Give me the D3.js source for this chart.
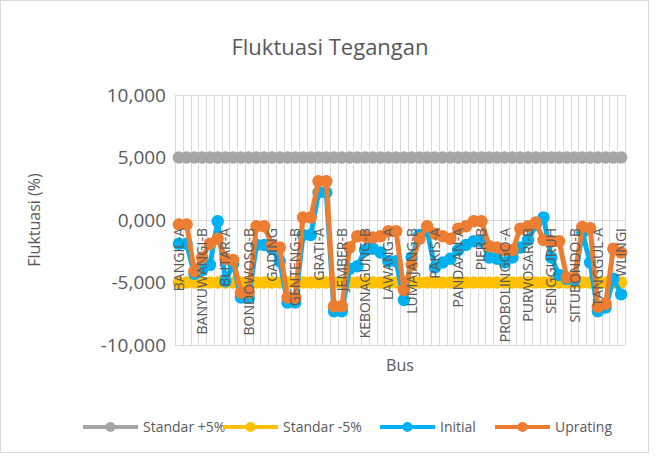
<!DOCTYPE html>
<html>
<head>
<meta charset="utf-8">
<script src="https://cdn.jsdelivr.net/npm/d3@7"></script>
<style>
  body { margin: 0; background: #fff; }
  svg { font-family: "Open Sans", sans-serif; }
</style>
</head>
<body>
<div id="chart"></div>
<script>
// Bus names (only every third one is shown on the axis)
const buses = [
  'BANGIL-A', 'BANGIL-B', 'BANYUWANGI-A', 'BANYUWANGI-B', 'BLIMBING-A', 'BLIMBING-B',
  'BLITAR-A', 'BLITAR-B', 'BONDOWOSO-A', 'BONDOWOSO-B', 'BULUKANDANG', 'DRIYOREJO',
  'GADING', 'GARUM', 'GENTENG-A', 'GENTENG-B', 'GLENMORE', 'GONDANGWETAN',
  'GRATI-A', 'GRATI-B', 'JEMBER-A', 'JEMBER-B', 'KARANGKATES', 'KEBONAGUNG-A',
  'KEBONAGUNG-B', 'KEPANJEN', 'KRAKSAAN', 'LAWANG-A', 'LAWANG-B', 'LUMAJANG-A',
  'LUMAJANG-B', 'MENDALAN', 'PAITON', 'PAKIS-A', 'PAKIS-B', 'PANARUKAN',
  'PANDAAN-A', 'PANDAAN-B', 'PIER-A', 'PIER-B', 'POLEHAN', 'PORONG',
  'PROBOLINGGO-A', 'PROBOLINGGO-B', 'PURWOSARI-A', 'PURWOSARI-B', 'SEKARPUTIH', 'SELOREJO',
  'SENGGURUH', 'SENGKALING', 'SITUBONDO-A', 'SITUBONDO-B', 'SUKOREJO', 'SUTAMI',
  'TANGGUL-A', 'TANGGUL-B', 'TULUNGAGUNG', 'WLINGI'
];

// Voltage fluctuation (%) per bus
const initial = [
  -1.90, -1.90, -4.30, -4.00, -3.60, -0.10, -4.90, -3.50, -6.20, -6.20,
  -2.00, -2.00, -2.30, -3.30, -6.60, -6.60, -1.20, -1.20, 2.20, 2.20,
  -7.30, -7.30, -3.90, -3.70, -2.40, -2.30, -2.60, -3.30, -3.30, -6.40,
  -3.00, -1.20, -0.90, -3.80, -3.40, -3.10, -2.40, -2.00, -1.70, -1.70,
  -3.00, -3.10, -3.40, -3.00, -2.20, -1.60, -0.40, 0.20, -3.00, -4.40,
  -4.70, -4.80, -1.00, -3.40, -7.30, -7.00, -4.70, -5.95
];
const uprating = [
  -0.35, -0.35, -4.10, -3.00, -1.90, -1.50, -3.10, -3.20, -5.80, -5.80,
  -0.50, -0.50, -2.00, -2.20, -6.20, -6.20, 0.20, 0.20, 3.10, 3.10,
  -6.90, -6.90, -2.20, -1.30, -1.30, -1.40, -1.30, -0.90, -0.90, -5.60,
  -3.60, -1.50, -0.50, -1.10, -1.30, -1.50, -0.70, -0.50, -0.10, -0.10,
  -2.10, -2.20, -2.40, -2.40, -0.70, -0.50, -0.20, -1.60, -1.70, -1.70,
  -4.60, -4.60, -0.55, -0.65, -6.95, -6.70, -2.30, -2.60
];
const standarPlus = buses.map(() => 5);
const standarMinus = buses.map(() => -5);

const yTicks = [10, 5, 0, -5, -10];

const series = [
  { name: 'Standar +5%', values: standarPlus, color: '#a5a5a5' },
  { name: 'Standar -5%', values: standarMinus, color: '#ffc000' },
  { name: 'Initial', values: initial, color: '#00b0f0' },
  { name: 'Uprating', values: uprating, color: '#ed7d31' }
];

const W = 657, H = 457;
const plot = { left: 175, right: 625, top: 95, bottom: 345 };

const svg = d3.select('#chart').append('svg')
  .attr('width', W)
  .attr('height', H);

svg.append('rect')
  .attr('x', 0.5).attr('y', 0.5)
  .attr('width', W - 9).attr('height', H - 5)
  .attr('fill', '#fff')
  .attr('stroke', '#d9d9d9');

const x = d3.scaleBand()
  .domain(buses)
  .range([plot.left, plot.right])
  .padding(0);

const y = d3.scaleLinear()
  .domain([-10, 10])
  .range([plot.bottom, plot.top]);

const idLocale = d3.formatLocale({ decimal: ',', thousands: '.', grouping: [3], currency: ['Rp', ''], minus: '-' });
const fmt = idLocale.format('.3f');

// horizontal gridlines
svg.append('g')
  .selectAll('line')
  .data(yTicks)
  .join('line')
  .attr('x1', plot.left).attr('x2', plot.right)
  .attr('y1', d => Math.round(y(d)) + 0.5)
  .attr('y2', d => Math.round(y(d)) + 0.5)
  .attr('stroke', '#d9d9d9');

// vertical gridlines at category edges
const edges = buses.map(b => x(b)).concat([plot.right]);
svg.append('g')
  .selectAll('line')
  .data(edges)
  .join('line')
  .attr('x1', d => Math.round(d) + 0.5).attr('x2', d => Math.round(d) + 0.5)
  .attr('y1', plot.top).attr('y2', plot.bottom)
  .attr('stroke', '#d9d9d9');

// y tick labels
svg.append('g')
  .selectAll('text')
  .data(yTicks)
  .join('text')
  .attr('x', 166)
  .attr('y', d => y(d))
  .attr('dy', '0.35em')
  .attr('text-anchor', 'end')
  .attr('fill', '#595959')
  .style('font-size', '19px')
  .text(d => fmt(d));

// series
const line = d3.line()
  .x((d, i) => x(buses[i]) + x.bandwidth() / 2)
  .y(d => y(d));

series.forEach(s => {
  const g = svg.append('g');
  g.append('path')
    .attr('d', line(s.values))
    .attr('fill', 'none')
    .attr('stroke', s.color)
    .attr('stroke-width', 5)
    .attr('stroke-linejoin', 'round');
  g.selectAll('circle')
    .data(s.values)
    .join('circle')
    .attr('cx', (d, i) => x(buses[i]) + x.bandwidth() / 2)
    .attr('cy', d => y(d))
    .attr('r', 6.2)
    .attr('fill', s.color);
});

// category labels, every third bus
svg.append('g')
  .selectAll('text')
  .data(buses.filter((b, i) => i % 3 === 0))
  .join('text')
  .attr('transform', d => `translate(${x(d) + x.bandwidth() / 2 + 5},${y(0) + 8}) rotate(-90)`)
  .attr('text-anchor', 'end')
  .attr('fill', '#595959')
  .style('font-size', '14px')
  .text(d => d);

// titles
svg.append('text')
  .attr('x', 330).attr('y', 55)
  .attr('text-anchor', 'middle')
  .attr('fill', '#595959')
  .style('font-size', '22px')
  .text('Fluktuasi Tegangan');

svg.append('text')
  .attr('transform', `translate(40,${(plot.top + plot.bottom) / 2}) rotate(-90)`)
  .attr('text-anchor', 'middle')
  .attr('fill', '#595959')
  .style('font-size', '16px')
  .text('Fluktuasi (%)');

svg.append('text')
  .attr('x', (plot.left + plot.right) / 2).attr('y', 371)
  .attr('text-anchor', 'middle')
  .attr('fill', '#595959')
  .style('font-size', '16px')
  .text('Bus');

// legend
const legendX = [83, 223, 380, 495];
const legend = svg.append('g');
series.forEach((s, i) => {
  const g = legend.append('g').attr('transform', `translate(${legendX[i]},427)`);
  g.append('line')
    .attr('x1', 0).attr('x2', 55)
    .attr('stroke', s.color)
    .attr('stroke-width', 4);
  g.append('circle')
    .attr('cx', 27.5).attr('r', 5)
    .attr('fill', s.color);
  g.append('text')
    .attr('x', 60).attr('dy', '0.35em')
    .attr('fill', '#595959')
    .style('font-size', '14px')
    .text(s.name);
});
</script>
</body>
</html>
